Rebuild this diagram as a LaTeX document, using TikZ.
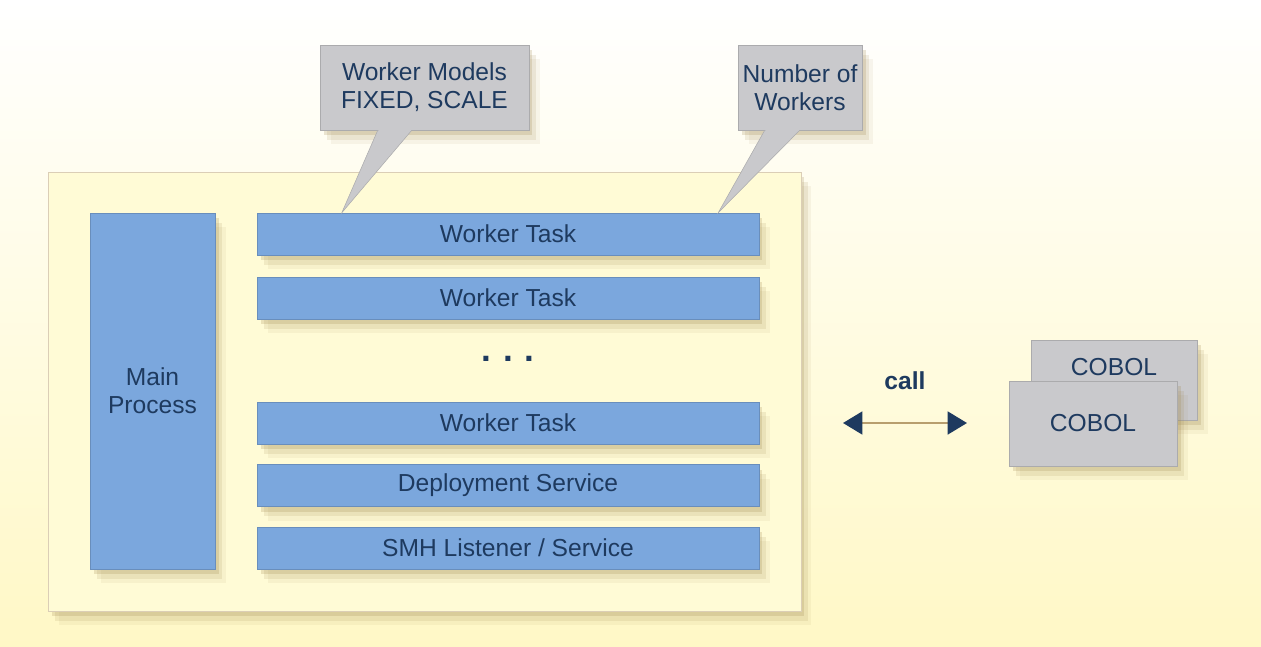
\documentclass[tikz,border=0pt]{standalone}
\usepackage{fontspec}
\setmainfont{Liberation Sans}
\usetikzlibrary{calc,arrows.meta,shadows}
\definecolor{paleYellow}{HTML}{FFF8C6}
\definecolor{boxYellow}{HTML}{FFFBD6}
\definecolor{taskBlue}{HTML}{7BA7DD}
\definecolor{noteGray}{HTML}{C9C9CC}
\definecolor{inkBlue}{HTML}{1E3A5F}
\definecolor{shaftTan}{HTML}{B89E6E}
\definecolor{shadowTan}{HTML}{A08850}

\begin{document}
\begin{tikzpicture}[x=0.02cm,y=-0.02cm,
    every node/.style={font=\fontsize{14}{16}\selectfont, text=inkBlue, align=center},
    soft/.style={drop shadow={shadow xshift=6pt, shadow yshift=-8pt, fill=shadowTan, opacity=0.08},
        drop shadow={shadow xshift=4pt, shadow yshift=-5.5pt, fill=shadowTan, opacity=0.14},
        drop shadow={shadow xshift=2pt, shadow yshift=-3pt, fill=shadowTan, opacity=0.22}},
    task/.style={soft, fill=taskBlue, draw=taskBlue!85!black, line width=0.3pt, inner sep=0pt,
        minimum width=10.04cm, minimum height=0.84cm},
    note/.style={soft, fill=noteGray, draw=noteGray!85!black, line width=0.3pt, inner sep=0pt},
    tail/.style={fill=noteGray, draw=noteGray!85!black, line width=0.3pt}]
    \shade[top color=white, middle color=paleYellow!60, bottom color=paleYellow] (0,0) rectangle (1261,646);
    \node[soft, fill=boxYellow, draw=shaftTan!50, line width=0.4pt, minimum width=15.06cm, minimum height=8.78cm] (server) at (424.5,391.5) {};
    \node[soft, fill=taskBlue, draw=taskBlue!85!black, line width=0.3pt, minimum width=2.5cm, minimum height=7.12cm] (main) at (152.5,391) {Main\\Process};
    \node[task] (task1) at (508,234) {Worker Task};
    \node[task] (task2) at (508,298) {Worker Task};
    \node[font=\fontsize{20}{20}\selectfont\bfseries] (dots) at (508,359) {.\,\,.\,\,.};
    \node[task] (task3) at (508,423) {Worker Task};
    \node[task] (deploy) at (508,485.5) {Deployment Service};
    \node[task] (smh) at (508,548) {SMH Listener / Service};
    % callouts
    \node[note, minimum width=4.18cm, minimum height=1.7cm] (models) at (424.5,87.5) {Worker Models\\FIXED, SCALE};
    \draw[tail] ($(models.south west)+(58,0)$) -- ($(task1.north west)+(85,0)$) -- ($(models.south west)+(92,0)$);
    \fill[noteGray] ($(models.south west)+(59,-2)$) rectangle ($(models.south west)+(91,0.5)$);
    \node[note, minimum width=2.48cm, minimum height=1.7cm] (count) at (800,87.5) {Number of\\Workers};
    \draw[tail] ($(count.south west)+(27,0)$) -- ($(task1.north east)+(-41,0)$) -- ($(count.south west)+(62,0)$);
    \fill[noteGray] ($(count.south west)+(28,-2)$) rectangle ($(count.south west)+(61,0.5)$);
    % COBOL programs
    \node[note, minimum width=3.32cm, minimum height=1.6cm, text depth=15pt] (cobolBack) at (1114,380) {COBOL};
    \node[note, minimum width=3.36cm, minimum height=1.7cm] (cobolFront) at (1093,423.5) {COBOL};
    \coordinate (callL) at (843,423);
    \coordinate (callR) at (967,423);
    \draw[shaftTan, line width=1.2pt, {Triangle[color=inkBlue, length=11pt, width=13pt]}-{Triangle[color=inkBlue, length=11pt, width=13pt]}] (callL) -- (callR);
    \node[font=\fontsize{14}{16}\selectfont\bfseries] (call) at (905,381) {call};
\end{tikzpicture}
\end{document}
